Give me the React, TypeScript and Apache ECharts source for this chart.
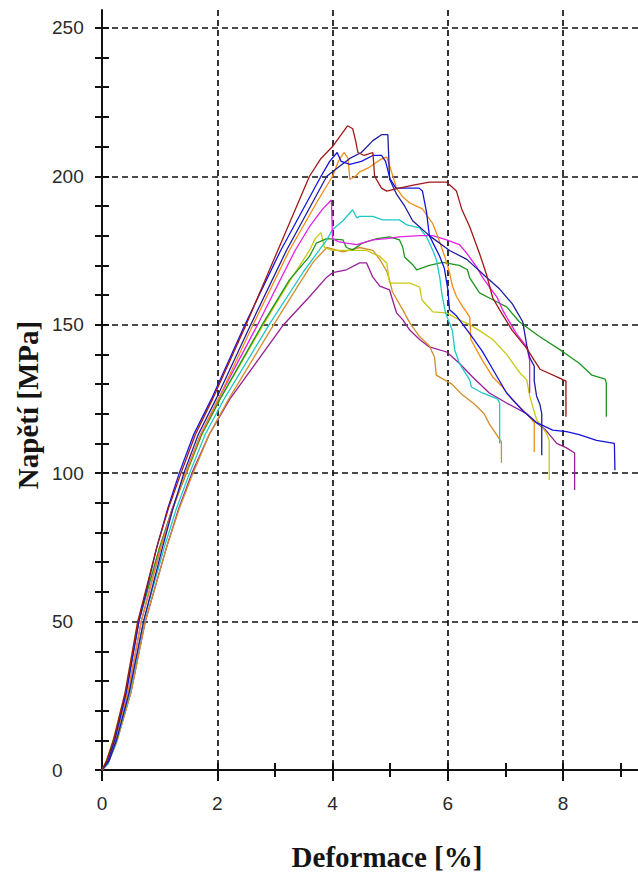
import React, { useEffect, useRef } from "react";
import * as echarts from "echarts";

// ---- Data (strain %, stress MPa) ----
const darkRed: number[][] = [[0,0],[0.08,3],[0.2,10],[0.4,26],[0.62,50],[0.95,75],[1.15,88],[1.37,100],[1.62,113],[1.92,125],[2.5,150],[3.05,175],[3.6,200],[3.8,206],[4.0,210],[4.15,214],[4.26,217],[4.35,216],[4.4,212],[4.44,208],[4.55,207],[4.7,208],[4.73,200],[4.85,196],[4.94,195],[5.16,196],[5.4,197],[5.68,198],[5.98,198],[6.15,195],[6.24,189],[6.38,183],[6.55,174],[6.67,167],[6.78,159],[6.9,155],[7.12,148],[7.37,142],[7.5,138],[7.6,135],[7.94,132],[8.05,131],[8.05,119]];
const blue: number[][] = [[0,0],[0.1,3],[0.22,10],[0.42,26],[0.64,50],[0.95,75],[1.14,88],[1.34,100],[1.59,113],[1.9,125],[2.48,150],[3.1,175],[3.8,200],[3.95,205],[4.08,208],[4.15,205],[4.3,204],[4.5,205],[4.7,207],[4.85,207],[4.92,205],[5.0,199],[5.1,196],[5.3,196],[5.5,196],[5.56,195],[5.63,188],[5.68,180],[5.86,173],[5.94,169],[6.0,162],[6.03,155],[6.15,153],[6.38,147],[6.6,141],[6.78,135],[7.02,127],[7.3,121],[7.54,117],[7.82,114.5],[8.06,114],[8.28,113],[8.58,111],[8.89,110],[8.9,101]];
const navy: number[][] = [[0,0],[0.12,3],[0.25,10],[0.47,26],[0.72,50],[1.05,75],[1.23,88],[1.42,100],[1.67,113],[1.98,125],[2.58,150],[3.2,175],[3.9,200],[4.1,203],[4.3,206],[4.5,208],[4.7,212],[4.85,214],[4.96,214],[4.99,199],[5.11,194],[5.25,190],[5.39,185],[5.68,180],[6.03,175],[6.33,172],[6.67,166],[6.9,162],[7.12,157],[7.3,151],[7.37,143],[7.42,139],[7.5,136],[7.5,131],[7.54,126],[7.6,123],[7.63,120],[7.63,106]];
const orange: number[][] = [[0,0],[0.1,3],[0.23,10],[0.45,26],[0.68,50],[1.02,75],[1.23,88],[1.45,100],[1.71,113],[2.02,125],[2.62,150],[3.25,175],[3.75,192],[4.0,200],[4.1,205],[4.2,208],[4.27,206],[4.3,199],[4.4,200],[4.47,201.5],[4.64,203],[4.82,205.5],[4.94,206.5],[5.0,203],[5.11,196],[5.22,193],[5.34,191],[5.56,189],[5.74,184],[5.82,180],[5.91,175],[5.98,171],[6.03,167.5],[6.08,163],[6.15,159.5],[6.26,156],[6.38,152.6],[6.4,145],[6.6,138],[6.78,132.4],[6.95,129],[7.12,124.7],[7.37,120],[7.5,117],[7.5,107]];
const ochre: number[][] = [[0,0],[0.1,2],[0.25,9],[0.5,26],[0.75,50],[1.12,75],[1.34,88],[1.58,100],[1.86,113],[2.2,125],[2.98,150],[3.43,164],[3.66,171],[3.9,176],[4.18,174.5],[4.47,176],[4.7,175],[4.82,172],[4.94,168],[4.99,165],[5.04,161],[5.22,155],[5.34,150.6],[5.51,146],[5.68,142.8],[5.77,139],[5.8,133],[5.89,132],[6.07,130],[6.24,126.6],[6.46,123.3],[6.63,120],[6.72,116.6],[6.81,114],[6.93,110.5],[6.93,103.5]];
const cyan: number[][] = [[0,0],[0.1,2],[0.24,9],[0.48,26],[0.72,50],[1.08,75],[1.29,88],[1.52,100],[1.79,113],[2.12,125],[2.9,150],[3.5,168],[3.9,178.6],[4.0,182],[4.18,185],[4.35,188.7],[4.42,186],[4.47,186.5],[4.7,186.5],[4.87,185.3],[5.16,185.3],[5.29,183.6],[5.51,182.6],[5.63,179.6],[5.74,175],[5.8,172],[5.86,166],[5.9,160],[5.96,154],[6.08,148],[6.12,141.5],[6.2,137],[6.38,131.4],[6.41,129],[6.6,127],[6.86,125],[6.9,123.6],[6.9,110]];
const magenta: number[][] = [[0,0],[0.1,3],[0.22,10],[0.45,26],[0.68,50],[1.02,75],[1.22,88],[1.45,100],[1.71,113],[2.02,125],[2.7,150],[3.35,175],[3.6,183],[3.83,189],[3.98,192],[4.0,179],[4.1,178],[4.24,177.5],[4.42,177],[4.7,178.6],[4.94,179],[5.16,179.6],[5.51,180],[5.74,180],[5.98,178.6],[6.2,177],[6.33,174],[6.5,169.5],[6.6,166],[6.72,162.7],[6.85,159.4],[6.95,155],[7.02,152.6],[7.19,147],[7.37,142.5],[7.42,138],[7.42,127]];
const green: number[][] = [[0,0],[0.08,3],[0.2,10],[0.42,26],[0.64,50],[1.0,75],[1.22,88],[1.46,100],[1.73,113],[2.05,125],[2.78,150],[3.25,165],[3.6,173],[3.72,177.5],[3.9,179],[4.18,178.6],[4.24,176],[4.35,175.2],[4.52,177.5],[4.77,179],[4.99,179.6],[5.16,178.6],[5.22,176],[5.25,172.8],[5.4,170],[5.46,168.5],[5.68,170],[5.91,171],[6.2,170],[6.34,168.5],[6.38,165.8],[6.55,160.7],[6.78,158.4],[7.02,156],[7.24,151],[7.59,146],[7.99,141],[8.28,137],[8.5,133],[8.73,131.7],[8.75,130.4],[8.75,119]];
const yellow: number[][] = [[0,0],[0.07,3],[0.19,10],[0.4,26],[0.62,50],[1.0,75],[1.22,88],[1.47,100],[1.73,113],[2.05,125],[2.8,150],[3.3,166],[3.6,175],[3.7,179],[3.8,181],[3.86,176],[4.0,175],[4.3,175],[4.59,175],[4.7,174],[4.82,173],[4.94,170.8],[4.99,164],[5.34,164],[5.51,162.7],[5.55,158.4],[5.74,154.3],[5.98,154],[6.2,151.6],[6.38,150],[6.55,148],[6.78,145],[7.02,140],[7.24,134],[7.37,131.4],[7.42,126],[7.54,118],[7.71,113.5],[7.76,111],[7.76,97.7]];
const purple: number[][] = [[0,0],[0.12,3],[0.26,10],[0.5,26],[0.75,50],[1.12,75],[1.33,88],[1.56,100],[1.86,113],[2.22,125],[3.15,150],[3.6,159.4],[3.9,166],[4.0,167.5],[4.24,168.5],[4.47,170.8],[4.59,170.8],[4.7,166],[4.82,163],[4.99,161.7],[5.04,158.4],[5.11,154],[5.22,151.6],[5.34,148.2],[5.51,145],[5.68,142.5],[5.98,140.8],[6.2,137],[6.43,132.4],[6.72,127],[7.02,123.6],[7.37,120],[7.54,117],[7.7,114.5],[7.89,110],[8.06,108.5],[8.2,106.8],[8.2,94.3]];

const xMajorTicks = [0, 2, 4, 6, 8];
const xAllTicks = [0, 2, 3, 4, 5, 6, 7, 8, 9];
const yTicks = [0, 10, 20, 30, 40, 50, 60, 70, 80, 90, 100, 110, 120, 130, 140, 150, 160, 170, 180, 190, 200, 210, 220, 230, 240, 250];

const seriesDefs: { name: string; data: number[][]; color: string }[] = [
  { name: "purple", data: purple, color: "#961e96" },
  { name: "ochre", data: ochre, color: "#d28e2a" },
  { name: "yellow", data: yellow, color: "#c8c814" },
  { name: "green", data: green, color: "#1e961e" },
  { name: "cyan", data: cyan, color: "#1ec8c8" },
  { name: "magenta", data: magenta, color: "#e61ee6" },
  { name: "orange", data: orange, color: "#f28c14" },
  { name: "navy", data: navy, color: "#1e1e9e" },
  { name: "blue", data: blue, color: "#1414dc" },
  { name: "darkRed", data: darkRed, color: "#a01818" },
];

const X_MAX = 9.3;
const Y_MAX = 256;

export default function App() {
  const ref = useRef<HTMLDivElement>(null);
  useEffect(() => {
    if (!ref.current) return;
    const chart = echarts.init(ref.current, undefined, { renderer: "svg" });
    const labelFont = { fontFamily: "'Liberation Sans', Arial, sans-serif", fontSize: 19, color: "#2a2a2a" };
    const tickStyle = { color: "#111", width: 2 };
    const gridLine = { color: "#111", width: 1.7, type: [6, 4] };
    const overlayX = (extra: any) => ({
      type: "value", min: 0, max: X_MAX, position: "bottom",
      axisLine: { show: false }, axisLabel: { show: false }, splitLine: { show: false },
      ...extra,
    });
    const overlayY = (extra: any) => ({
      type: "value", min: 0, max: Y_MAX, position: "left",
      axisLine: { show: false }, axisLabel: { show: false }, splitLine: { show: false },
      ...extra,
    });
    chart.setOption({
      animation: false,
      backgroundColor: "#ffffff",
      grid: { left: 102, right: 0, top: 10, bottom: 106, containLabel: false },
      xAxis: [
        {
          type: "value", min: 0, max: X_MAX, interval: 2, position: "bottom",
          axisLine: { show: true, lineStyle: { color: "#111", width: 2 } },
          axisTick: { show: false },
          axisLabel: { margin: 24, showMaxLabel: false, ...labelFont },
          splitLine: { show: true, showMinLine: false, showMaxLine: false, lineStyle: gridLine },
        },
        overlayX({ axisTick: { show: true, customValues: xAllTicks, length: 7, lineStyle: tickStyle } }),
        overlayX({ axisTick: { show: true, customValues: xMajorTicks, length: 11, lineStyle: tickStyle } }),
        overlayX({ axisTick: { show: true, inside: true, customValues: xAllTicks, length: 7, lineStyle: tickStyle } }),
      ],
      yAxis: [
        {
          type: "value", min: 0, max: Y_MAX, interval: 50, position: "left",
          axisLine: { show: true, lineStyle: { color: "#111", width: 2 } },
          axisTick: { show: false },
          axisLabel: { margin: 50, align: "left", showMaxLabel: false, ...labelFont },
          splitLine: { show: true, showMinLine: false, showMaxLine: false, lineStyle: gridLine },
        },
        overlayY({ axisTick: { show: true, customValues: yTicks, length: 7, lineStyle: tickStyle } }),
        overlayY({ axisTick: { show: true, inside: true, customValues: yTicks, length: 7, lineStyle: tickStyle } }),
      ],
      graphic: [
        {
          type: "text", x: 28, y: 405, rotation: Math.PI / 2,
          style: { text: "Napětí [MPa]", font: "bold 29px 'Liberation Serif', 'Times New Roman', serif", fill: "#151515", align: "center", verticalAlign: "middle" },
        },
        {
          type: "text", x: 387, y: 857,
          style: { text: "Deformace [%]", font: "bold 29px 'Liberation Serif', 'Times New Roman', serif", fill: "#151515", align: "center", verticalAlign: "middle" },
        },
      ],
      series: seriesDefs.map((s) => ({
        name: s.name,
        type: "line",
        xAxisIndex: 0,
        yAxisIndex: 0,
        data: s.data,
        symbol: "none",
        showSymbol: false,
        clip: true,
        lineStyle: { color: s.color, width: 1.3 },
        itemStyle: { color: s.color },
      })),
    });
    return () => chart.dispose();
  }, []);
  return <div ref={ref} style={{ position: "absolute", left: 0, top: 0, width: 638, height: 876 }} />;
}
